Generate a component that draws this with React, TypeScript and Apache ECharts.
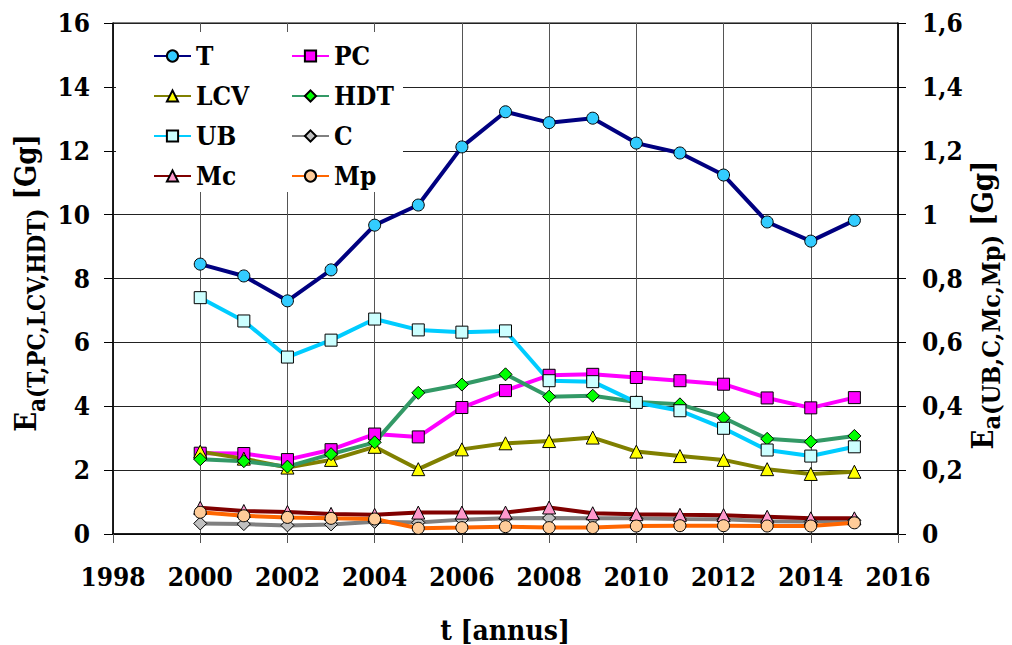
import React, { useEffect, useRef } from "react";
import * as echarts from "echarts";

const years = [2000, 2001, 2002, 2003, 2004, 2005, 2006, 2007, 2008, 2009, 2010, 2011, 2012, 2013, 2014, 2015];
const T = [8.45, 8.08, 7.3, 8.27, 9.67, 10.3, 12.12, 13.22, 12.88, 13.02, 12.24, 11.93, 11.24, 9.77, 9.17, 9.82];
const PC = [2.53, 2.52, 2.33, 2.64, 3.13, 3.04, 3.96, 4.49, 4.97, 5.0, 4.9, 4.8, 4.69, 4.26, 3.95, 4.27];
const LCV = [2.58, 2.36, 2.08, 2.32, 2.73, 2.03, 2.65, 2.84, 2.91, 3.02, 2.58, 2.44, 2.32, 2.03, 1.88, 1.95];
const HDT = [2.34, 2.28, 2.11, 2.5, 2.87, 4.42, 4.68, 5.0, 4.3, 4.33, 4.13, 4.06, 3.64, 2.98, 2.89, 3.07];
const UB = [0.74, 0.667, 0.554, 0.607, 0.673, 0.639, 0.632, 0.636, 0.48, 0.477, 0.412, 0.386, 0.331, 0.263, 0.244, 0.273];
const C = [0.033, 0.031, 0.027, 0.03, 0.038, 0.036, 0.045, 0.049, 0.05, 0.049, 0.049, 0.047, 0.046, 0.04, 0.039, 0.043];
const Mc = [0.082, 0.072, 0.069, 0.063, 0.06, 0.067, 0.067, 0.067, 0.083, 0.065, 0.062, 0.06, 0.059, 0.054, 0.049, 0.049];
const Mp = [0.068, 0.057, 0.052, 0.049, 0.047, 0.018, 0.02, 0.023, 0.02, 0.02, 0.025, 0.026, 0.026, 0.025, 0.025, 0.035];

const leftTicks = { min: 0, max: 16, interval: 2 };
const rightTicks = { min: 0, max: 1.6, interval: 0.2 };
const xTicks = { min: 1998, max: 2016, interval: 2 };

const FONT = "DejaVu Serif Condensed";

type Def = { name: string; data: number[]; axis: number; line: string; fill: string; symbol: string; size: number };
const defs: Def[] = [
  { name: "T", data: T, axis: 0, line: "#000080", fill: "#33CCFF", symbol: "circle", size: 12 },
  { name: "PC", data: PC, axis: 0, line: "#FF00FF", fill: "#FF00FF", symbol: "rect", size: 12 },
  { name: "LCV", data: LCV, axis: 0, line: "#808000", fill: "#FFFF00", symbol: "triangle", size: 13 },
  { name: "HDT", data: HDT, axis: 0, line: "#339966", fill: "#00FF00", symbol: "diamond", size: 13 },
  { name: "UB", data: UB, axis: 1, line: "#00CCFF", fill: "#CCFFFF", symbol: "rect", size: 12 },
  { name: "C", data: C, axis: 1, line: "#808080", fill: "#C0C0C0", symbol: "diamond", size: 13 },
  { name: "Mc", data: Mc, axis: 1, line: "#800000", fill: "#FF99CC", symbol: "triangle", size: 13 },
  { name: "Mp", data: Mp, axis: 1, line: "#FF6600", fill: "#FFCC99", symbol: "circle", size: 12 },
];

const fmtComma = (v: number) => {
  const r = Math.round(v * 10) / 10;
  return String(r).replace(".", ",");
};

const mkRich = (subSize: number, drop: number) => ({
  b: { fontSize: 29, fontWeight: "bold", fontFamily: FONT, fill: "#000", lineHeight: 30, verticalAlign: "top" },
  s: { fontSize: subSize, fontWeight: "bold", fontFamily: FONT, fill: "#000", lineHeight: subSize, verticalAlign: "top", padding: [drop, 0, 0, 0] },
});

export default function App() {
  const ref = useRef<HTMLDivElement>(null);
  useEffect(() => {
    if (!ref.current) return;
    const chart = echarts.init(ref.current, undefined, { renderer: "svg" });
    const legendCommon = {
      orient: "vertical" as const,
      itemWidth: 37,
      itemHeight: 14,
      itemGap: 14,
      textStyle: { fontSize: 26, fontWeight: "bold" as const, fontFamily: FONT, color: "#000", lineHeight: 26 },
      selectedMode: false,
    };
    const tickLabel = { fontSize: 26, fontWeight: "bold" as const, fontFamily: FONT, color: "#000" };
    chart.setOption({
      animation: false,
      backgroundColor: "#fff",
      textStyle: { fontFamily: FONT },
      grid: { left: 113, right: 114, top: 23, bottom: 111, show: true, borderColor: "#000", borderWidth: 1, backgroundColor: "transparent" },
      xAxis: {
        type: "value",
        ...xTicks,
        axisLine: { show: true, lineStyle: { color: "#000", width: 1.5 } },
        axisTick: { show: true, inside: false, length: 9, lineStyle: { color: "#555" } },
        axisLabel: { ...tickLabel, margin: 30, formatter: (v: number) => String(v) },
        splitLine: { show: true, lineStyle: { color: "#555", width: 1 } },
      },
      yAxis: [
        {
          type: "value",
          ...leftTicks,
          position: "left",
          axisLine: { show: true, lineStyle: { color: "#000", width: 1.5 } },
          axisTick: { show: true, inside: false, length: 9, lineStyle: { color: "#000" } },
          axisLabel: { ...tickLabel, margin: 23 },
          splitLine: { show: true, lineStyle: { color: "#222", width: 1 } },
        },
        {
          type: "value",
          ...rightTicks,
          position: "right",
          axisLine: { show: true, lineStyle: { color: "#000", width: 1.5 } },
          axisTick: { show: true, inside: false, length: 8, lineStyle: { color: "#000" } },
          axisLabel: { ...tickLabel, margin: 24, formatter: fmtComma },
          splitLine: { show: false },
        },
      ],
      legend: [
        { ...legendCommon, left: 148, top: 38, data: ["T", "LCV", "UB", "Mc"] },
        { ...legendCommon, left: 286, top: 38, data: ["PC", "HDT", "C", "Mp"] },
      ],
      graphic: [
        { type: "rect", z: 1, shape: { x: 116, y: 32, width: 287, height: 160 }, style: { fill: "#fff" }, silent: true },
        {
          type: "text",
          x: 26,
          y: 283,
          rotation: Math.PI / 2,
          style: {
            text: "{b|E}{s|a(T,PC,LCV,HDT)}{b| [Gg]}",
            rich: mkRich(24, 13),
            align: "center",
            verticalAlign: "middle",
            fill: "#000",
          },
        },
        {
          type: "text",
          x: 983,
          y: 305,
          rotation: Math.PI / 2,
          style: {
            text: "{b|E}{s|a(UB,C,Mc,Mp)}{b| [Gg]}",
            rich: mkRich(25, 11),
            align: "center",
            verticalAlign: "middle",
            fill: "#000",
          },
        },
        {
          type: "text",
          x: 505,
          y: 630,
          style: {
            text: "t [annus]",
            fontSize: 28,
            fontWeight: "bold",
            fontFamily: FONT,
            fill: "#000",
            align: "center",
            verticalAlign: "middle",
          },
        },
      ],
      series: defs.map((d) => ({
        name: d.name,
        type: "line",
        yAxisIndex: d.axis,
        data: years.map((y, i) => [y, d.data[i]]),
        symbol: d.symbol,
        symbolSize: d.size,
        showAllSymbol: true,
        lineStyle: { color: d.line, width: 4 },
        itemStyle: { color: d.fill, borderColor: "#000", borderWidth: 1 },
        emphasis: { disabled: true },
      })),
    });
    return () => chart.dispose();
  }, []);
  return <div ref={ref} style={{ width: 1012, height: 645, position: "absolute", left: 0, top: 0 }} />;
}
